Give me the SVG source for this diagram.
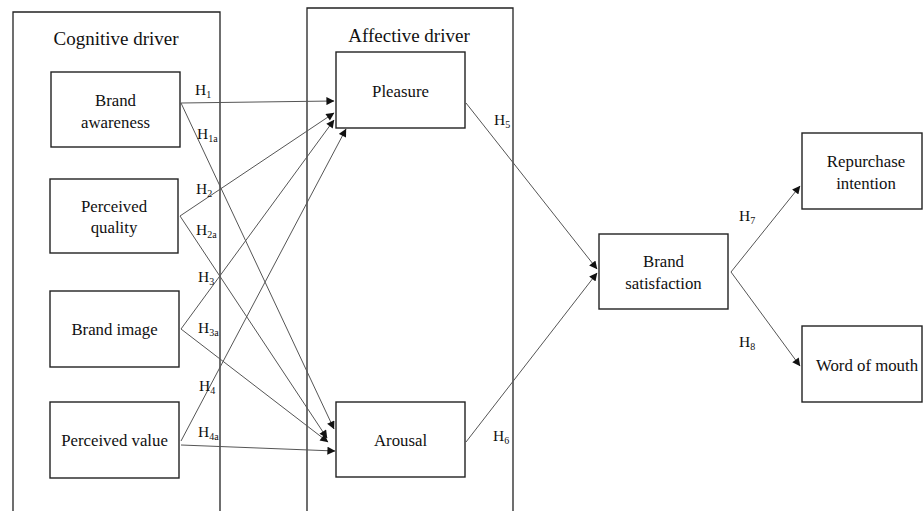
<svg xmlns="http://www.w3.org/2000/svg" width="923" height="511" viewBox="0 0 923 511">
<defs>
<style>
.cont{fill:none;stroke:#222;stroke-width:1.3}
.box{fill:#fff;stroke:#222;stroke-width:1.4}
.t{font-family:"Liberation Serif","Times New Roman",serif;font-size:16.8px;fill:#111;text-anchor:middle}
.title{font-family:"Liberation Serif","Times New Roman",serif;font-size:19px;fill:#111;text-anchor:middle}
.h{font-family:"Liberation Serif","Times New Roman",serif;font-size:15.5px;fill:#111}
.s{font-size:10px}
.c{fill:none;stroke:#555;stroke-width:1;marker-end:url(#arr)}
</style>
<marker id="arr" viewBox="0 0 10 10" refX="9.5" refY="5" markerWidth="9" markerHeight="8" markerUnits="userSpaceOnUse" orient="auto">
<path d="M0,0 L10,5 L0,10 z" fill="#111"/>
</marker>
</defs>
<rect width="923" height="511" fill="#fff"/>

<g id="cognitive-driver">
<path class="cont" d="M13,520 V12 H220 V520"/>
<text class="title" x="116" y="45">Cognitive driver</text>
</g>
<g id="affective-driver">
<path class="cont" d="M307,520 V8 H513 V520"/>
<text class="title" x="409" y="42">Affective driver</text>
</g>

<g id="connectors">
<line class="c" x1="181" y1="103" x2="334" y2="101"/>
<line class="c" x1="181" y1="103" x2="334" y2="429"/>
<line class="c" x1="180" y1="216" x2="334" y2="113"/>
<line class="c" x1="180" y1="216" x2="327" y2="438"/>
<line class="c" x1="181" y1="329" x2="334" y2="120"/>
<line class="c" x1="181" y1="329" x2="328" y2="442"/>
<line class="c" x1="181" y1="441" x2="346" y2="129"/>
<line class="c" x1="181" y1="445" x2="335" y2="451"/>
<line class="c" x1="466" y1="103" x2="597" y2="269"/>
<line class="c" x1="466" y1="442" x2="597" y2="273"/>
<line class="c" x1="731" y1="272" x2="800" y2="186"/>
<line class="c" x1="731" y1="272" x2="800" y2="366"/>
</g>

<g id="brand-awareness">
<rect class="box" x="51" y="72" width="129" height="75"/>
<text class="t" x="115.5" y="106">Brand</text>
<text class="t" x="115.5" y="128">awareness</text>
</g>
<g id="perceived-quality">
<rect class="box" x="50" y="179" width="128" height="74"/>
<text class="t" x="114" y="212">Perceived</text>
<text class="t" x="114" y="233">quality</text>
</g>
<g id="brand-image">
<rect class="box" x="50" y="291" width="129" height="76"/>
<text class="t" x="114.5" y="335">Brand image</text>
</g>
<g id="perceived-value">
<rect class="box" x="50" y="402" width="129" height="76"/>
<text class="t" x="114.5" y="446">Perceived value</text>
</g>
<g id="pleasure">
<rect class="box" x="336" y="52" width="129" height="76"/>
<text class="t" x="400.5" y="97">Pleasure</text>
</g>
<g id="arousal">
<rect class="box" x="336" y="402" width="129" height="75"/>
<text class="t" x="400.5" y="446">Arousal</text>
</g>
<g id="brand-satisfaction">
<rect class="box" x="599" y="234" width="129" height="75"/>
<text class="t" x="663.5" y="267">Brand</text>
<text class="t" x="663.5" y="289">satisfaction</text>
</g>
<g id="repurchase-intention">
<rect class="box" x="802" y="133" width="120" height="76"/>
<text class="t" x="866" y="167">Repurchase</text>
<text class="t" x="866" y="189">intention</text>
</g>
<g id="word-of-mouth">
<rect class="box" x="802" y="326" width="120" height="76"/>
<text class="t" x="867" y="371">Word of mouth</text>
</g>

<g id="hypothesis-labels">
<text class="h" x="195" y="95">H<tspan class="s" dy="3">1</tspan></text>
<text class="h" x="197" y="139">H<tspan class="s" dy="3">1a</tspan></text>
<text class="h" x="196" y="194">H<tspan class="s" dy="3">2</tspan></text>
<text class="h" x="196" y="235">H<tspan class="s" dy="3">2a</tspan></text>
<text class="h" x="198" y="282">H<tspan class="s" dy="3">3</tspan></text>
<text class="h" x="198" y="333">H<tspan class="s" dy="3">3a</tspan></text>
<text class="h" x="199" y="391">H<tspan class="s" dy="3">4</tspan></text>
<text class="h" x="198" y="437">H<tspan class="s" dy="3">4a</tspan></text>
<text class="h" x="494" y="125">H<tspan class="s" dy="3">5</tspan></text>
<text class="h" x="493" y="441">H<tspan class="s" dy="3">6</tspan></text>
<text class="h" x="739" y="221">H<tspan class="s" dy="3">7</tspan></text>
<text class="h" x="739" y="347">H<tspan class="s" dy="3">8</tspan></text>
</g>
</svg>
